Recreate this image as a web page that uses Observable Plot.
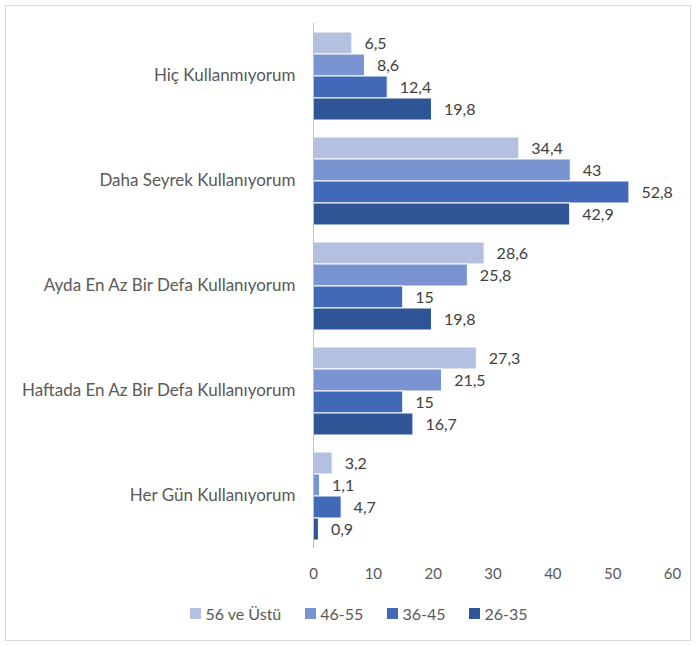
<!DOCTYPE html>
<html><head><meta charset="utf-8">
<script src="https://cdn.jsdelivr.net/npm/d3@7"></script>
<script src="https://cdn.jsdelivr.net/npm/@observablehq/plot@0.6"></script>
<style>
body{margin:0;background:#fff;font-family:Lato,"Open Sans",sans-serif;}
#frame{position:absolute;left:5px;top:5px;width:684px;height:634px;border:1px solid #d9d9d9;}
#chart{position:absolute;left:0;top:0;}
#legend{position:absolute;top:604px;left:11px;width:696px;display:flex;justify-content:center;gap:24px;font-size:16px;color:#595959;}
#legend span.item{display:flex;align-items:center;gap:4px;}
#legend span.sw{display:inline-block;width:11px;height:11px;}
</style></head>
<body>
<div id="frame"></div>
<div id="chart"></div>
<div id="legend"></div>
<script>
const categories = ["Hiç Kullanmıyorum","Daha Seyrek Kullanıyorum","Ayda En Az Bir Defa Kullanıyorum","Haftada En Az Bir Defa Kullanıyorum","Her Gün Kullanıyorum"];
const series = ["56 ve Üstü","46-55","36-45","26-35"];
const colors = ["#b4c0e0","#7a93d1","#4169b8","#2f5597"];
const v56 = [6.5, 34.4, 28.6, 27.3, 3.2];
const v46 = [8.6, 43, 25.8, 21.5, 1.1];
const v36 = [12.4, 52.8, 15, 15, 4.7];
const v26 = [19.8, 42.9, 19.8, 16.7, 0.9];
const xTicks = [0,10,20,30,40,50,60];

const allVals = [v56, v46, v36, v26];
const data = [];
categories.forEach((c, i) => series.forEach((s, j) => data.push({cat: c, ser: s, v: allVals[j][i]})));
const fmt = v => String(v).replace(".", ",");

const plot = Plot.plot({
  width: 696, height: 590,
  marginLeft: 313, marginRight: 24, marginTop: 21, marginBottom: 40,
  style: {fontFamily: "Lato, 'Open Sans', sans-serif", fontSize: "15px", color: "#404040", background: "transparent"},
  x: {domain: [0, 60], ticks: xTicks, tickSize: 0, tickPadding: 20, label: null, tickFormat: d => d},
  y: {domain: series, axis: null, paddingInner: 0, paddingOuter: 0.36},
  fy: {domain: categories, padding: 0, tickSize: 0, tickPadding: 18, label: null},
  color: {domain: series, range: colors},
  marks: [
    Plot.barX(data, {fy: "cat", y: "ser", x: "v", fill: "ser", stroke: "white", strokeWidth: 1}),
    Plot.text(data, {fy: "cat", y: "ser", x: "v", text: d => fmt(d.v), textAnchor: "start", dx: 12, fill: "#404040", fontSize: 16}),
    Plot.ruleX([0], {stroke: "#bfbfbf", strokeWidth: 1})
  ]
});
plot.querySelectorAll('[aria-label="x-axis tick label"] text').forEach(t => t.setAttribute("fill", "#595959"));
const fyl = plot.querySelector('[aria-label="fy-axis tick label"]');
if (fyl) { fyl.setAttribute("font-size", "17"); fyl.querySelectorAll("text").forEach(t => t.setAttribute("fill", "#595959")); }
document.getElementById("chart").appendChild(plot);

const leg = document.getElementById("legend");
series.forEach((s, i) => {
  const it = document.createElement("span"); it.className = "item";
  const sw = document.createElement("span"); sw.className = "sw"; sw.style.background = colors[i];
  const tx = document.createElement("span"); tx.textContent = s;
  it.appendChild(sw); it.appendChild(tx); leg.appendChild(it);
});
</script>
</body></html>
